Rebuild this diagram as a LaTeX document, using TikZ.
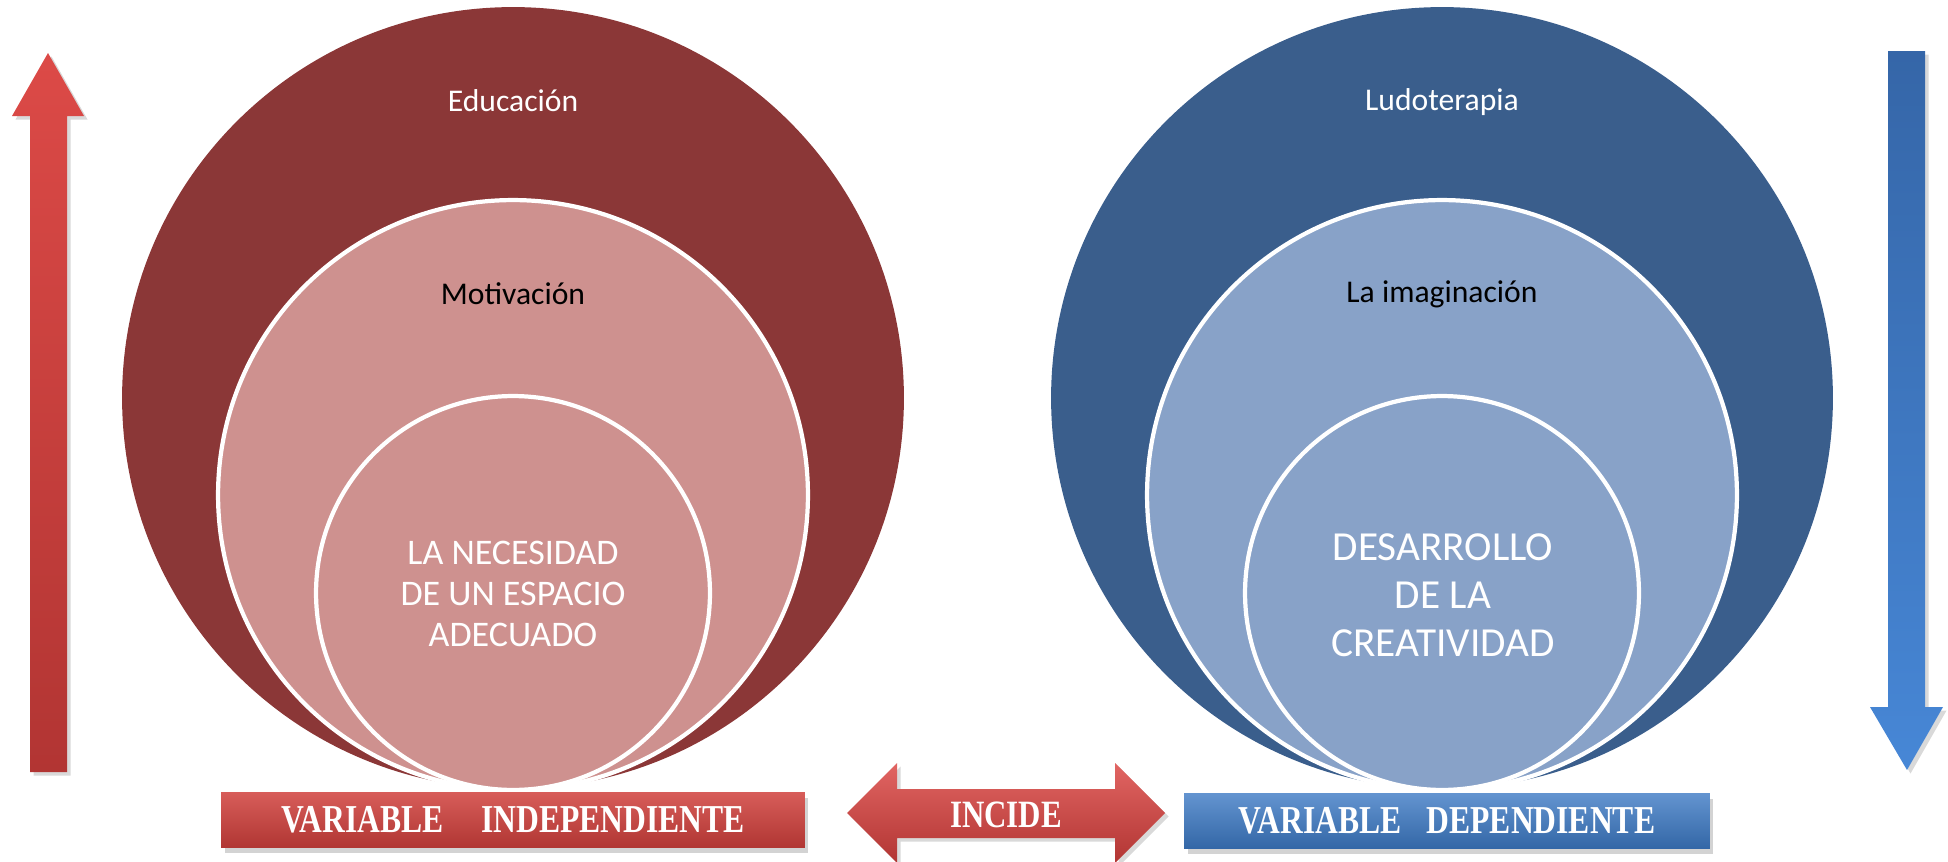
\documentclass[tikz,border=0pt]{standalone}
\usepackage{fontspec}
\setmainfont{Carlito}
\newfontfamily\boxfont[FakeStretch=0.8]{Liberation Serif}
\usepackage{xcolor}
\usetikzlibrary{
    shapes,
    positioning,
    shadows
}
\definecolor{eduRed}{HTML}{8B3737}
\definecolor{motPink}{HTML}{CE918F}
\definecolor{ludBlue}{HTML}{3A5E8C}
\definecolor{imaBlue}{HTML}{88A2C8}
\definecolor{arrRedTop}{HTML}{DC4A47}
\definecolor{arrRedBot}{HTML}{B23533}
\definecolor{arrBlueTop}{HTML}{3566A8}
\definecolor{arrBlueBot}{HTML}{4787D6}
\definecolor{boxRed}{HTML}{D0403C}
\definecolor{boxBlue}{HTML}{3C79C4}
\tikzset{%
    % Specifications for style of nodes:
    ring/.style = {circle, inner sep=0pt, outer sep=0pt},
    bigring/.style = {ring, minimum size=15.64cm},
    midring/.style = {ring, draw=white, line width=2.4pt, minimum size=11.8cm},
    corering/.style = {ring, draw=white, line width=2.4pt, minimum size=7.88cm},
    title/.style = {font=\fontsize{18}{22}\selectfont},
    core/.style = {align=center, text=white},
    varbox/.style = {
        rectangle, minimum height=1.1cm, inner sep=0pt,
        text=white, font=\boxfont\bfseries\fontsize{22.5}{26}\selectfont,
        drop shadow={shadow xshift=2pt, shadow yshift=-3pt, opacity=0.35}
    },
    bigarrow/.style = {drop shadow={shadow xshift=2pt, shadow yshift=-2pt, opacity=0.3}}
}

\begin{document}
\begin{tikzpicture}[x=0.02cm, y=-0.02cm]
    \useasboundingbox (0,0) rectangle (1948,862);
    % circles, left side
    \node[bigring, fill=eduRed] (edu) at (513,398) {};
    \node[midring, fill=motPink] (mot) at (513,495) {};
    \node[corering, fill=motPink] (esp) at (513,593) {};
    \node[title, text=white] (eduT) at (513,101) {Educación};
    \node[title] (motT) at (513,294) {Motivación};
    \node[core, font=\fontsize{20.5}{23.3}\selectfont] (espT) at (513,594) {LA NECESIDAD\\DE UN ESPACIO\\ADECUADO};
    % circles, right side
    \node[bigring, fill=ludBlue] (lud) at (1442,398) {};
    \node[midring, fill=imaBlue] (ima) at (1442,495) {};
    \node[corering, fill=imaBlue] (cre) at (1442,593) {};
    \node[title, text=white] (ludT) at (1442,102) {Ludoterapia};
    \node[title] (imaT) at (1442,294) {La imaginación};
    \node[core, font=\fontsize{23.5}{27.3}\selectfont] (creT) at (1443,595) {DESARROLLO\\DE LA\\CREATIVIDAD};
    % vertical arrows
    \path[bigarrow, top color=arrRedTop, bottom color=arrRedBot]
        (48,53) -- (84,116) -- (67,116) -- (67,772) -- (30,772) -- (30,116) -- (12,116) -- cycle;
    \path[bigarrow, top color=arrBlueTop, bottom color=arrBlueBot]
        (1888,51) -- (1925,51) -- (1925,707) -- (1943,707) -- (1907,770) -- (1870,707) -- (1888,707) -- cycle;
    % variable boxes
    \node[varbox, minimum width=11.68cm, top color=boxRed!85!white, middle color=boxRed, bottom color=boxRed!85!black] (indep) at (513,820) {VARIABLE\hspace{0.75cm}INDEPENDIENTE};
    \node[varbox, minimum width=10.52cm, top color=boxBlue!80!white, middle color=boxBlue, bottom color=boxBlue!85!black] (dep) at (1447,821) {VARIABLE\hspace{0.5cm}DEPENDIENTE};
    % double arrow
    \path[bigarrow, top color=arrRedTop!85!white, middle color=boxRed, bottom color=arrRedBot]
        (847,813) -- (897,763) -- (897,789) -- (1115,789) -- (1115,763) -- (1165,813)
        -- (1115,863) -- (1115,838) -- (897,838) -- (897,863) -- cycle;
    \node[text=white, font=\boxfont\bfseries\fontsize{22}{26}\selectfont] (incide) at (1006,815) {INCIDE};
\end{tikzpicture}
\end{document}
